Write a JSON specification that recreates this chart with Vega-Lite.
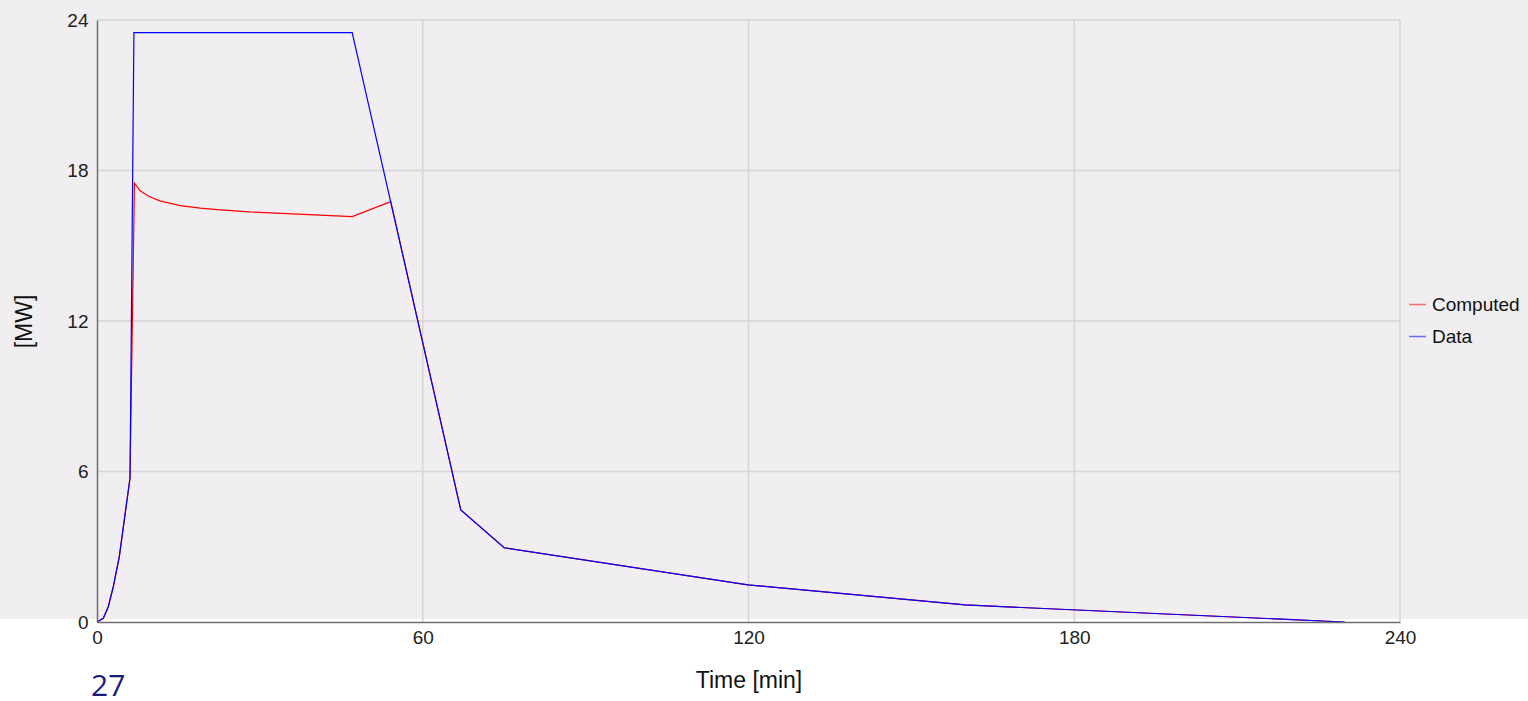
{
  "$schema": "https://vega.github.io/schema/vega-lite/v6.json",
  "width": 1303,
  "height": 602,
  "autosize": {"type": "none"},
  "padding": {"left": 97, "top": 20, "right": 128, "bottom": 79},
  "background": "white",
  "title": {"text": "27", "orient": "bottom", "anchor": "start", "frame": "group", "offset": -20, "dx": -6, "font": "Open Sans", "fontSize": 30, "fontWeight": "normal", "color": "#1b1b7d"},
  "config": {
    "view": {"stroke": null},
    "font": "Liberation Sans",
    "axis": {"grid": false, "labelFont": "Liberation Sans", "titleFont": "Liberation Sans", "labelFontSize": 19, "titleFontSize": 23, "titleFontWeight": "normal", "labelColor": "#222222", "titleColor": "#111111", "domainColor": "#6e6e6e", "domainWidth": 1.5, "ticks": false}
  },
  "datasets": {
    "series": [
      {"t": 0, "v": 0, "s": "Computed"},
      {"t": 1.16, "v": 0.15, "s": "Computed"},
      {"t": 2.08, "v": 0.61, "s": "Computed"},
      {"t": 3.0, "v": 1.41, "s": "Computed"},
      {"t": 4.1, "v": 2.6, "s": "Computed"},
      {"t": 5.03, "v": 4.07, "s": "Computed"},
      {"t": 6.08, "v": 5.74, "s": "Computed"},
      {"t": 6.9, "v": 17.5, "s": "Computed"},
      {"t": 7.9, "v": 17.2, "s": "Computed"},
      {"t": 9.5, "v": 16.97, "s": "Computed"},
      {"t": 11.6, "v": 16.79, "s": "Computed"},
      {"t": 15.3, "v": 16.6, "s": "Computed"},
      {"t": 19, "v": 16.5, "s": "Computed"},
      {"t": 22.7, "v": 16.43, "s": "Computed"},
      {"t": 28, "v": 16.35, "s": "Computed"},
      {"t": 35, "v": 16.28, "s": "Computed"},
      {"t": 41, "v": 16.22, "s": "Computed"},
      {"t": 47, "v": 16.16, "s": "Computed"},
      {"t": 54.1, "v": 16.76, "s": "Computed"},
      {"t": 67.0, "v": 4.47, "s": "Computed"},
      {"t": 75.0, "v": 2.96, "s": "Computed"},
      {"t": 119.9, "v": 1.48, "s": "Computed"},
      {"t": 159.9, "v": 0.68, "s": "Computed"},
      {"t": 229.8, "v": 0, "s": "Computed"},
      {"t": 0, "v": 0, "s": "Data"},
      {"t": 1.16, "v": 0.15, "s": "Data"},
      {"t": 2.08, "v": 0.61, "s": "Data"},
      {"t": 3.0, "v": 1.41, "s": "Data"},
      {"t": 4.1, "v": 2.6, "s": "Data"},
      {"t": 5.03, "v": 4.07, "s": "Data"},
      {"t": 6.08, "v": 5.74, "s": "Data"},
      {"t": 6.8, "v": 23.5, "s": "Data"},
      {"t": 47, "v": 23.5, "s": "Data"},
      {"t": 67.0, "v": 4.47, "s": "Data"},
      {"t": 75.0, "v": 2.96, "s": "Data"},
      {"t": 119.9, "v": 1.48, "s": "Data"},
      {"t": 159.9, "v": 0.68, "s": "Data"},
      {"t": 229.8, "v": 0, "s": "Data"}
    ]
  },
  "layer": [
    {
      "data": {"values": [{"bg": 1}]},
      "mark": {"type": "rect", "color": "#f0eef0", "clip": false},
      "encoding": {
        "x": {"datum": -20, "type": "quantitative", "scale": {"domain": [0, 240], "nice": false},
              "title": "Time [min]",
              "axis": {"zindex": 1, "values": [0, 60, 120, 180, 240], "labelPadding": 6, "titlePadding": 22, "labelFlush": false}},
        "x2": {"datum": 270},
        "y": {"datum": 0.12, "type": "quantitative", "scale": {"domain": [0, 24], "nice": false},
              "title": "[MW]",
              "axis": {"zindex": 1, "values": [0, 6, 12, 18, 24], "labelPadding": 9, "titlePadding": 30, "labelFlush": false}},
        "y2": {"datum": 25}
      }
    },
    {
      "data": {"values": [{"g": 60}, {"g": 120}, {"g": 180}, {"g": 240}]},
      "mark": {"type": "rule", "color": "#d6d4d6", "strokeWidth": 1.5},
      "encoding": {"x": {"field": "g", "type": "quantitative", "title": "Time [min]"}}
    },
    {
      "data": {"values": [{"g": 6}, {"g": 12}, {"g": 18}, {"g": 24}]},
      "mark": {"type": "rule", "color": "#d6d4d6", "strokeWidth": 1.5},
      "encoding": {"y": {"field": "g", "type": "quantitative", "title": "[MW]"}}
    },
    {
      "data": {"name": "series"},
      "mark": {"type": "line", "strokeWidth": 1.2, "interpolate": "linear"},
      "encoding": {
        "x": {"field": "t", "type": "quantitative", "title": "Time [min]",
              "axis": {"zindex": 1, "values": [0, 60, 120, 180, 240], "labelPadding": 6, "titlePadding": 22, "labelFlush": false}},
        "y": {"field": "v", "type": "quantitative", "title": "[MW]",
              "axis": {"zindex": 1, "values": [0, 6, 12, 18, 24], "labelPadding": 9, "titlePadding": 30, "labelFlush": false}},
        "color": {"field": "s", "type": "nominal", "title": null,
                  "scale": {"domain": ["Computed", "Data"], "range": ["#ff0000", "#0000ff"]},
                  "legend": {"orient": "none", "legendX": 1311, "legendY": 275, "symbolType": "stroke", "symbolSize": 280, "symbolStrokeWidth": 1.5, "symbolOpacity": 0.55, "labelFontSize": 19, "labelFont": "Liberation Sans", "labelColor": "#111111", "rowPadding": 12, "labelOffset": 5}},
        "order": {"field": "s"}
      }
    }
  ]
}
